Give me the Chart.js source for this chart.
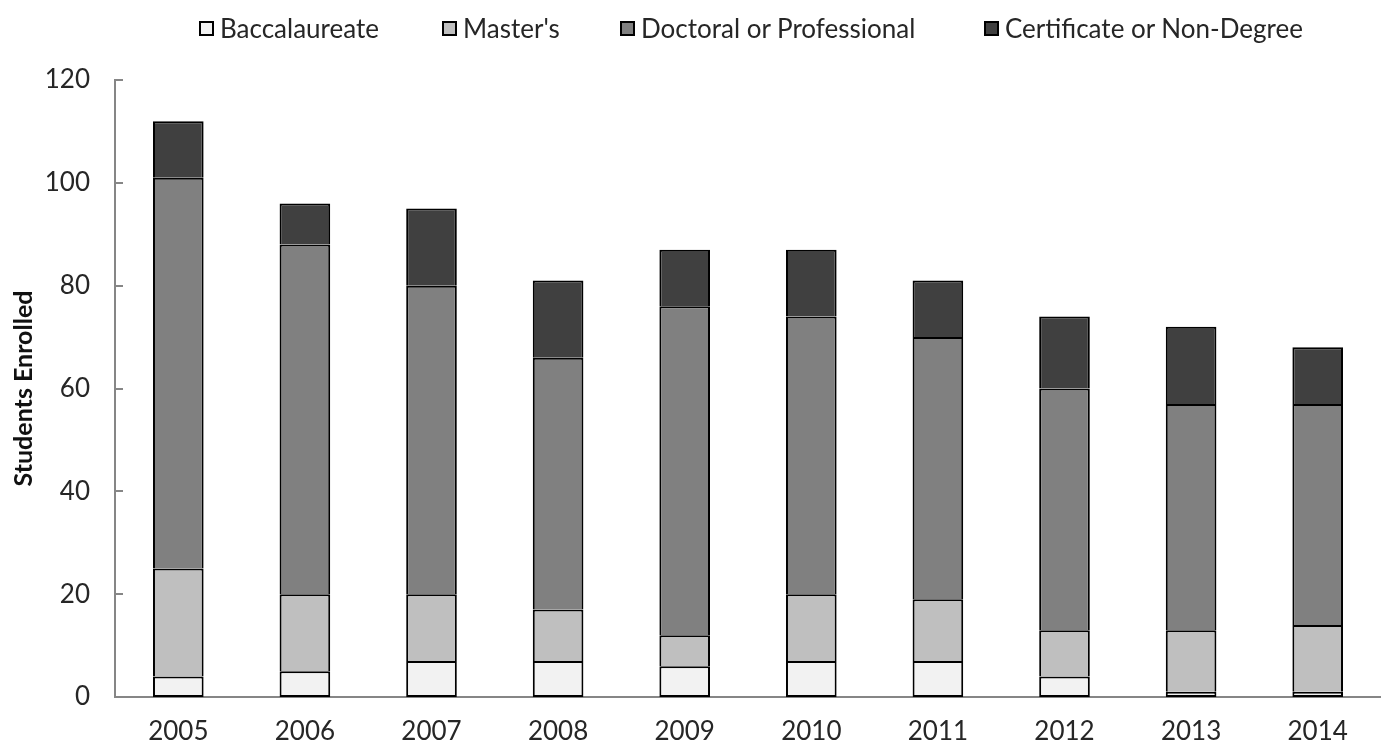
<!DOCTYPE html>
<html>
<head>
<meta charset="utf-8">
<script src="https://cdn.jsdelivr.net/npm/chart.js@4/dist/chart.umd.min.js"></script>
<style>
  html, body { margin:0; padding:0; background:#fff; }
  #wrap { position:relative; width:1381px; height:743px; overflow:hidden; }
  canvas { position:absolute; left:0; top:0; }
  .item { position:absolute; top:12px; display:flex; align-items:center; height:32px;
          font-family: Lato, sans-serif; font-size:26px; color:#262626; white-space:nowrap; }
  .box { width:11px; height:11px; border:2px solid #000; margin-right:6px; }
</style>
</head>
<body>
<div id="wrap">
  <canvas id="c" width="1381" height="743"></canvas>
</div>
<script>
const years = ['2005','2006','2007','2008','2009','2010','2011','2012','2013','2014'];
const baccalaureate = [4, 5, 7, 7, 6, 7, 7, 4, 1, 1];
const masters       = [21, 15, 13, 10, 6, 13, 12, 9, 12, 13];
const doctoral      = [76, 68, 60, 49, 64, 54, 51, 47, 44, 43];
const certificate   = [11, 8, 15, 15, 11, 13, 11, 14, 15, 11];
const seriesNames = ['Baccalaureate', "Master's", 'Doctoral or Professional', 'Certificate or Non-Degree'];
const seriesColors = ['#f2f2f2', '#bfbfbf', '#808080', '#404040'];
const yTicks = [0, 20, 40, 60, 80, 100, 120];
const legendLefts = [199, 442, 620, 984];

const seriesData = [baccalaureate, masters, doctoral, certificate];
const datasets = seriesData.map((d, i) => ({
  label: seriesNames[i],
  data: d,
  backgroundColor: seriesColors[i],
  borderColor: '#000',
  borderWidth: 2,
  borderSkipped: i === 0 ? false : 'bottom',
  categoryPercentage: 1.0,
  barPercentage: 0.4
}));

// HTML legend (real text)
const wrap = document.getElementById('wrap');
seriesNames.forEach((n, i) => {
  const it = document.createElement('div'); it.className = 'item'; it.style.left = legendLefts[i] + 'px';
  const b = document.createElement('div'); b.className = 'box'; b.style.background = seriesColors[i];
  const t = document.createElement('span'); t.textContent = n;
  it.appendChild(b); it.appendChild(t); wrap.appendChild(it);
});

const innerTicks = {
  id: 'innerTicks',
  afterDraw(chart) {
    const y = chart.scales.y, ctx = chart.ctx;
    ctx.save();
    ctx.strokeStyle = '#868686'; ctx.lineWidth = 2;
    yTicks.forEach(v => {
      const py = Math.round(y.getPixelForValue(v));
      ctx.beginPath(); ctx.moveTo(chart.chartArea.left, py); ctx.lineTo(chart.chartArea.left + 8, py); ctx.stroke();
    });
    ctx.restore();
  }
};

new Chart(document.getElementById('c'), {
  type: 'bar',
  data: { labels: years, datasets },
  plugins: [innerTicks],
  options: {
    responsive: false,
    animation: false,
    layout: { padding: { top: 80, right: -5, bottom: 0, left: 0 } },
    plugins: { legend: { display: false }, tooltip: { enabled: false } },
    scales: {
      x: {
        stacked: true,
        afterFit(scale) { scale.height = 46; },
        grid: { display: false, drawTicks: false },
        border: { display: true, color: '#868686', width: 2 },
        ticks: { color: '#262626', font: { family: 'Lato', size: 26 }, padding: 19, maxRotation: 0, autoSkip: false }
      },
      y: {
        stacked: true,
        min: 0, max: 120,
        afterBuildTicks(scale) { scale.ticks = yTicks.map(v => ({ value: v })); },
        afterFit(scale) { scale.width = 115; },
        grid: { display: false, drawTicks: false },
        border: { display: true, color: '#868686', width: 2 },
        ticks: { color: '#262626', font: { family: 'Lato', size: 26 }, padding: 25 },
        title: { display: true, text: 'Students Enrolled', color: '#111',
                 font: { family: 'Lato', size: 25, weight: 'bold' }, padding: { top: 9, bottom: 0 } }
      }
    }
  }
});
</script>
</body>
</html>
